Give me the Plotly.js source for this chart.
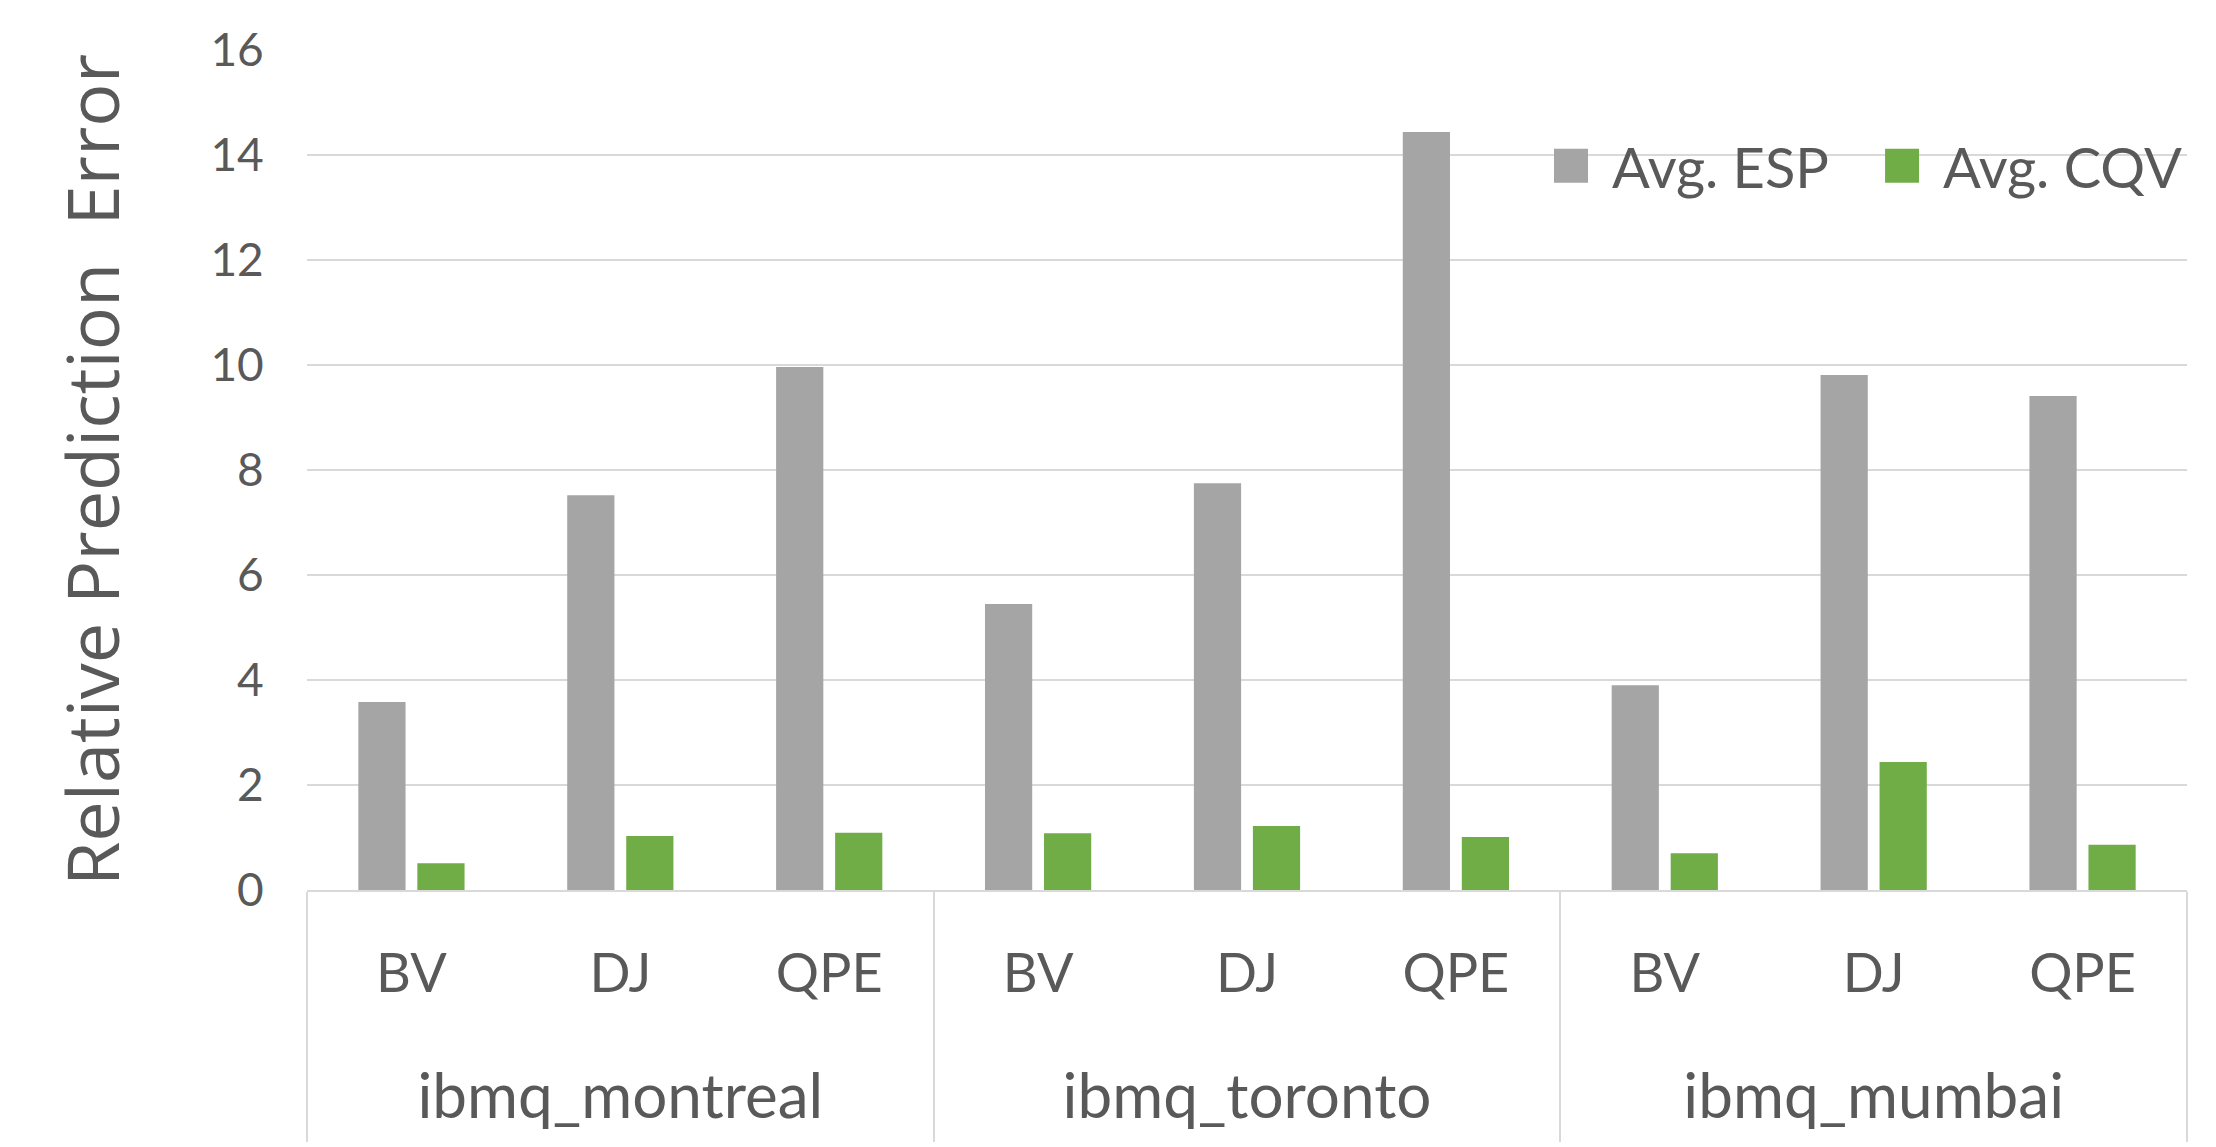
<!DOCTYPE html>
<html>
<head>
<meta charset="utf-8">
<script src="https://cdn.plot.ly/plotly-3.0.1.min.js"></script>
<style>
    body { margin: 0; background: #ffffff; }
    #chart { width: 2216px; height: 1147px; }
    /* bigger legend squares, like the original chart */
    #chart .legendpoints path { d: path('M17,17H-17V-17H17Z'); }
</style>
</head>
<body>
<div id="chart"></div>
<script>
const devices = ['ibmq_montreal', 'ibmq_toronto', 'ibmq_mumbai']
const circuits = ['BV', 'DJ', 'QPE']

// one value per (device, circuit), in device order
const esp_values = [3.58, 7.52, 9.96, 5.45, 7.75, 14.44, 3.90, 9.81, 9.41]
const cqv_values = [0.51, 1.03, 1.09, 1.08, 1.22, 1.01, 0.70, 2.44, 0.86]

const text_color = '#595959'
const grid_color = '#d9d9d9'

// padding spans make the label rows taller, so the two rows sit further apart
function pad_label(s, px, text_px)
{
    const sp = '<span style="font-size:' + px + 'px">\u00a0</span>'
    if (text_px) {
        s = '<span style="font-size:' + text_px + 'px">' + s + '</span>'
    }
    return sp + s + sp
}

// multicategory x: [outer level, inner level]
let outer = []
let inner = []
for (const d of devices) {
    for (const c of circuits) {
        outer.push(pad_label(d, 110, 62))
        inner.push(pad_label(c, 133))
    }
}

const data = [
    {
        type: 'bar',
        name: 'Avg. ESP\u00a0\u00a0',
        x: [outer, inner],
        y: esp_values,
        marker: { color: '#a5a5a5' },
        hovertemplate: '%{y:.2f}<extra>Avg. ESP</extra>'
    },
    {
        type: 'bar',
        name: 'Avg. CQV',
        x: [outer, inner],
        y: cqv_values,
        marker: { color: '#70ad47' },
        hovertemplate: '%{y:.2f}<extra>Avg. CQV</extra>'
    }
]

const layout = {
    width: 2216,
    height: 1147,
    margin: { l: 307, r: 29, t: 50, b: 257 },
    paper_bgcolor: '#ffffff',
    plot_bgcolor: '#ffffff',
    font: { family: 'Lato, "Open Sans", sans-serif', color: text_color },
    barmode: 'group',
    bargap: 0.435,
    bargroupgap: 0.2,
    showlegend: true,
    legend: {
        orientation: 'h',
        x: 1,
        xanchor: 'right',
        y: 0.862,
        yanchor: 'middle',
        bgcolor: 'rgba(0,0,0,0)',
        font: { size: 56, color: text_color },
        itemwidth: 72,
        itemclick: false,
        itemdoubleclick: false
    },
    xaxis: {
        type: 'multicategory',
        showline: true,
        linecolor: grid_color,
        linewidth: 2,
        showgrid: false,
        ticks: '',
        ticklabelstandoff: 35,
        tickfont: { size: 54, color: text_color },
        showdividers: true,
        dividercolor: grid_color,
        dividerwidth: 2
    },
    yaxis: {
        range: [0, 16],
        dtick: 2,
        showgrid: true,
        gridcolor: grid_color,
        gridwidth: 2,
        zeroline: false,
        ticks: 'outside',
        ticklen: 33,
        tickcolor: 'rgba(0,0,0,0)',
        tickfont: { size: 46, color: text_color },
        title: {
            text: 'Relative Prediction \u00a0Error',
            font: { family: '"Open Sans", sans-serif', size: 72, color: text_color },
            standoff: 67
        }
    }
}

Plotly.newPlot('chart', data, layout, { displaylogo: false, displayModeBar: false })
</script>
</body>
</html>
